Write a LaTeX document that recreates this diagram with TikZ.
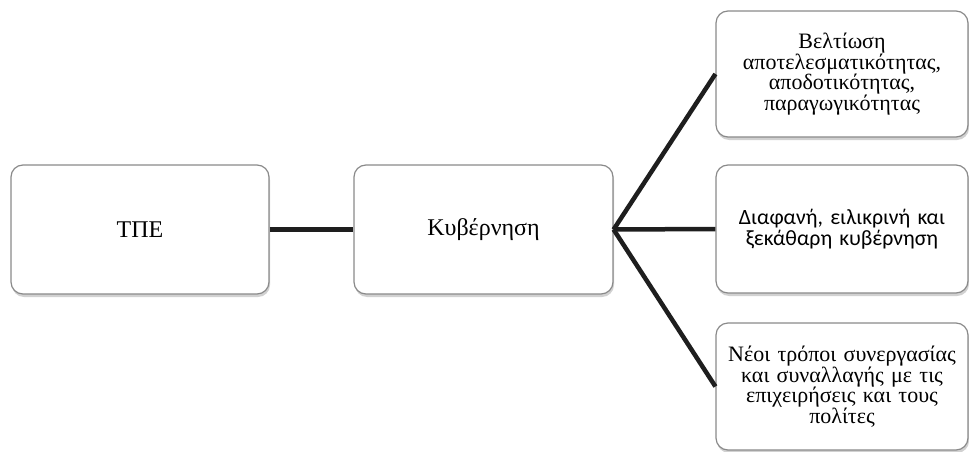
\documentclass[tikz,border=0pt]{standalone}
\usepackage{fontspec}
\setmainfont{Liberation Serif}
\newfontfamily\sansgr{Carlito}
\usetikzlibrary{shadows}
\definecolor{boxline}{HTML}{8A8A8A}
\definecolor{conn}{HTML}{1E1E1E}
\tikzset{
  box/.style={draw=boxline, line width=1.2pt, fill=white, rounded corners=12pt,
    align=center, inner sep=2pt,
    drop shadow={shadow xshift=1pt, shadow yshift=-3pt, opacity=0.3, fill=black!60}},
  bigbox/.style={box, minimum width=258pt, minimum height=129pt, font=\fontsize{24}{28}\selectfont},
  rbox/.style={box, minimum width=252pt, text width=246pt, font=\fontsize{22}{20.5}\selectfont},
  conn/.style={draw=conn, line width=4.5pt}
}
\begin{document}
\begin{tikzpicture}[x=1pt,y=-1pt]
\useasboundingbox (0,0) rectangle (969,452);
\node[bigbox] (tpe) at (140,229.5) {ΤΠΕ};
\node[bigbox, minimum width=259pt] (kyv) at (483.5,229.5) {Κυβέρνηση};
\node[rbox, minimum height=126pt] (r1) at (842,74) {Βελτίωση\\αποτελεσματικότητας,\\αποδοτικότητας,\\παραγωγικότητας};
\node[rbox, minimum height=128pt, font=\sansgr\fontsize{21.8}{21}\selectfont] (r2) at (842,229) {Διαφανή, ειλικρινή και\\ξεκάθαρη κυβέρνηση};
\node[rbox, minimum height=127pt] (r3) at (842,386.5) {Νέοι τρόποι συνεργασίας\\και συναλλαγής με τις\\επιχειρήσεις και τους\\πολίτες};
\draw[conn] (tpe.east) -- (kyv.west);
\draw[conn] (kyv.east) -- (r1.west);
\draw[conn] (kyv.east) -- (r2.west);
\draw[conn] (kyv.east) -- (r3.west);
\end{tikzpicture}
\end{document}
